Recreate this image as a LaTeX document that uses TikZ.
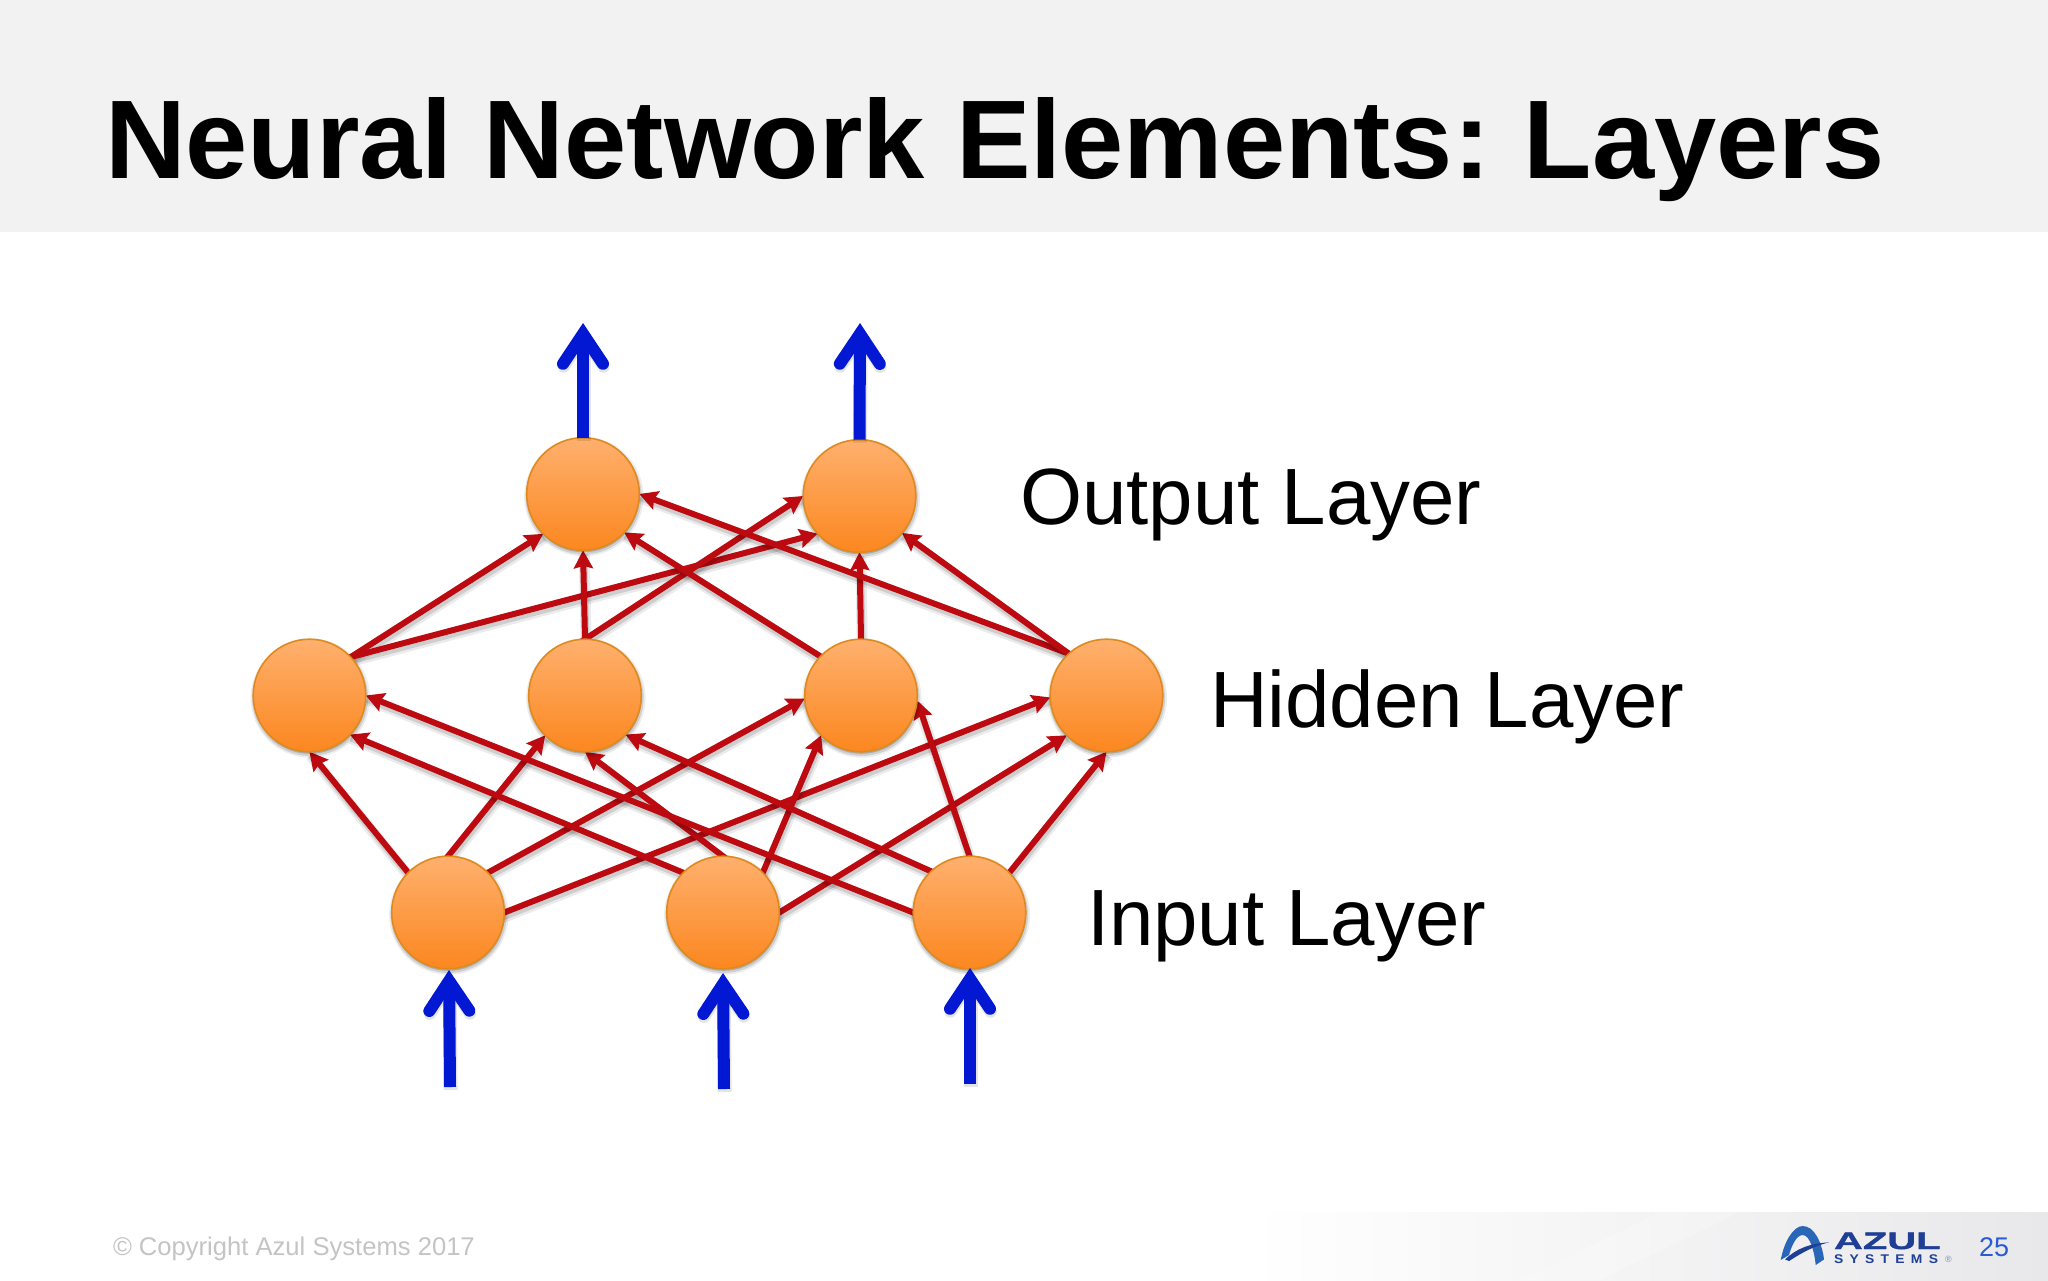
\documentclass[tikz,border=0pt]{standalone}
\usepackage{fontspec}
\setmainfont{Liberation Sans}
\usetikzlibrary{arrows.meta,shadows,fadings}
\pgfdeclarelayer{under}
\pgfsetlayers{under,main}
\definecolor{bandgray}{HTML}{F2F2F2}
\definecolor{footgray}{HTML}{E8E8EA}
\definecolor{wirered}{HTML}{BC0A10}
\definecolor{flowblue}{HTML}{0318D2}
\definecolor{balltop}{HTML}{FEB06E}
\definecolor{ballbot}{HTML}{FC871F}
\definecolor{ballrim}{HTML}{E08A1E}
\definecolor{copygray}{HTML}{C4C4C4}
\definecolor{pageblue}{HTML}{2A5BD7}
\definecolor{logoa}{HTML}{2A66B8}
\definecolor{logob}{HTML}{1F3F96}
\tikzset{
  x=0.5pt,y=-0.5pt,
  ball/.style={circle,inner sep=0pt,outer sep=0pt,minimum size=56.3pt,draw=ballrim,line width=0.8pt,
    top color=balltop,bottom color=ballbot,
    drop shadow={shadow xshift=0.4pt,shadow yshift=-1.2pt,shadow scale=1.06,opacity=.07,fill=black},
    drop shadow={shadow xshift=0.3pt,shadow yshift=-1.2pt,shadow scale=1.03,opacity=.12,fill=black},
    drop shadow={shadow xshift=0.2pt,shadow yshift=-1pt,shadow scale=1.0,opacity=.18,fill=black}},
  wire/.style={line width=3pt,draw=wirered,shorten <=-3pt,
    -{Stealth[length=9pt,width=9.5pt,inset=1.2pt]},
    preaction={draw=black,opacity=.08,line width=5.5pt,-,transform canvas={xshift=.6pt,yshift=-2pt}},
    preaction={draw=black,opacity=.12,line width=3.4pt,-,transform canvas={xshift=.5pt,yshift=-1.8pt}}},
  flow/.style={line width=6pt,draw=flowblue,
    -{Straight Barb[length=15pt,width=20pt,line cap=round,line width=6pt]},
    preaction={draw=black,opacity=.10,line width=7pt,transform canvas={xshift=.3pt,yshift=-1.5pt}}},
  lbl/.style={inner sep=0pt,outer sep=0pt,anchor=base west,text=black},
}
\newcommand{\wirefrom}[4]{\draw[wire] (#1.#2) -- (#3.#4);}
\begin{document}
\begin{tikzpicture}
\useasboundingbox (0,0) rectangle (2048,1280);
\begin{pgfonlayer}{under}
\fill[white] (0,0) rectangle (2048,1280);
\fill[bandgray] (0,0) rectangle (2048,232);
\shade[left color=white,right color=footgray,shading angle=90] (1250,1212) rectangle (2048,1280);
\fill[white,opacity=.22] (1520,1280) -- (1660,1212) -- (1740,1212) -- (1600,1280) -- cycle;
\end{pgfonlayer}

\node[lbl,font=\fontsize{55.9pt}{60pt}\bfseries] (title) at (105,178) {Neural Network Elements:\kern-4pt{} Layers};
\node[lbl,font=\fontsize{39.9pt}{44pt}\selectfont] (lo) at (1020,524) {Output Layer};
\node[lbl,font=\fontsize{39.9pt}{44pt}\selectfont] (lh) at (1210,727) {Hidden Layer};
\node[lbl,font=\fontsize{39.9pt}{44pt}\selectfont] (li) at (1087,945) {Input Layer};
\node[lbl,text=copygray,font=\fontsize{12.8pt}{15pt}\selectfont] (copy) at (113,1255) {© Copyright Azul Systems 2017};
\node[lbl,text=pageblue,font=\fontsize{13.5pt}{15pt}\selectfont] (page) at (1979,1256) {25};

\node[ball] (o1) at (583,494) {};
\node[ball] (o2) at (859.5,496) {};
\node[ball] (h1) at (309.5,695.5) {};
\node[ball] (h2) at (585,695.5) {};
\node[ball] (h3) at (861,695.5) {};
\node[ball] (h4) at (1106.5,695.5) {};
\node[ball] (i1) at (448,912.5) {};
\node[ball] (i2) at (723,912.5) {};
\node[ball] (i3) at (969.5,912.5) {};

\begin{pgfonlayer}{under}
\wirefrom{h1}{43}{o1}{225}
\wirefrom{h1}{43}{o2}{222}
\wirefrom{h2}{90}{o1}{270}
\wirefrom{h2}{90}{o2}{180}
\wirefrom{h3}{136}{o1}{-43}
\wirefrom{h3}{90}{o2}{270}
\wirefrom{h4}{132}{o1}{0}
\wirefrom{h4}{132}{o2}{-41}
\wirefrom{i1}{135}{h1}{270}
\wirefrom{i1}{90}{h2}{225}
\wirefrom{i1}{45}{h3}{183}
\wirefrom{i1}{0}{h4}{182}
\wirefrom{i2}{135}{h1}{-44}
\wirefrom{i2}{90}{h2}{270}
\wirefrom{i2}{45}{h3}{225}
\wirefrom{i2}{0}{h4}{225}
\wirefrom{i3}{180}{h1}{0}
\wirefrom{i3}{133}{h2}{-44}
\wirefrom{i3}{90}{h3}{-5}
\wirefrom{i3}{45}{h4}{270}
\end{pgfonlayer}

\coordinate (to1) at (583,323);
\coordinate (to2) at (860,323);
\coordinate (ti1) at (450,1087);
\coordinate (ti2) at (724,1089);
\coordinate (ti3) at (970,1084);
\coordinate (hi1) at (449,970);
\coordinate (hi2) at (723,973);
\coordinate (hi3) at (970,968);
\draw[flow] (o1.north) -- (to1);
\draw[flow] (o2.north) -- (to2);
\draw[flow] (ti1) -- (hi1);
\draw[flow] (ti2) -- (hi2);
\draw[flow] (ti3) -- (hi3);

% logo
\begin{scope}[shift={(1650,1180)},x=0.1667pt,y=-0.1667pt]
\fill[logoa] (392,240) .. controls (402,185) and (430,138) .. (458,138)
  .. controls (492,138) and (515,185) .. (522,238) -- (497,255)
  .. controls (493,215) and (480,165) .. (458,165)
  .. controls (440,165) and (425,195) .. (417,225) -- cycle;
\fill[logob] (405,238) .. controls (440,205) and (480,190) .. (537,187)
  .. controls (495,197) and (460,215) .. (417,243) -- cycle;
\end{scope}
\node[lbl,text=logob] (azul) at (1834,1249) {\fontspec{Liberation Sans Bold}[FakeStretch=1.68,FakeBold=1.5]\fontsize{11.9pt}{13pt}\selectfont AZUL};
\node[lbl,text=logob] (sys) at (1834,1263) {\fontspec{Liberation Sans Bold}[LetterSpace=50,FakeStretch=1.1]\fontsize{6.3pt}{7pt}\selectfont SYSTEMS};
\node[lbl,text=logob!60] (reg) at (1945,1262) {\fontsize{4.5pt}{5pt}\selectfont ®};
\end{tikzpicture}
\end{document}
